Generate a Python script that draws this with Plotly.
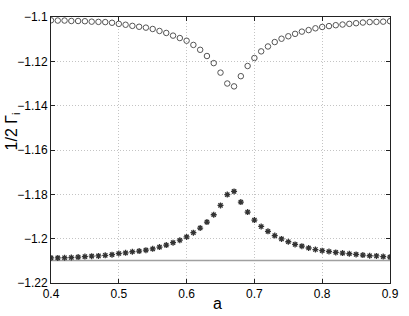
import plotly.graph_objects as go

a = [round(0.40 + 0.01 * i, 2) for i in range(51)]

# upper branch (open circles)
gamma_upper = [
    -1.1015, -1.1016, -1.1016, -1.1018, -1.1018, -1.1019, -1.1021, -1.1022, -1.1023, -1.1026,
    -1.1031, -1.1035, -1.1040, -1.1044, -1.1048, -1.1054, -1.1063, -1.1072, -1.1084, -1.1095,
    -1.1107, -1.1126, -1.1148, -1.1176, -1.1208, -1.1251, -1.1300, -1.1313, -1.1267, -1.1221,
    -1.1185, -1.1155, -1.1133, -1.1113, -1.1098, -1.1087, -1.1076, -1.1066, -1.1059, -1.1051,
    -1.1045, -1.1041, -1.1037, -1.1034, -1.1031, -1.1028, -1.1025, -1.1023, -1.1022, -1.1021,
    -1.1019,
]

# lower branch (stars)
gamma_lower = [
    -1.2087, -1.2087, -1.2086, -1.2085, -1.2083, -1.2081, -1.2079, -1.2078, -1.2075, -1.2072,
    -1.2067, -1.2064, -1.2059, -1.2056, -1.2052, -1.2046, -1.2038, -1.2029, -1.2018, -1.2007,
    -1.1992, -1.1973, -1.1952, -1.1925, -1.1892, -1.1850, -1.1801, -1.1787, -1.1835, -1.1880,
    -1.1916, -1.1945, -1.1967, -1.1986, -1.2001, -1.2014, -1.2026, -1.2034, -1.2042, -1.2049,
    -1.2054, -1.2058, -1.2062, -1.2065, -1.2068, -1.2071, -1.2074, -1.2077, -1.2078, -1.2081,
    -1.2083,
]

# flat reference level
ref_level = -1.2099

fig = go.Figure()

fig.add_trace(go.Scatter(
    x=[a[0], a[-1]], y=[ref_level, ref_level], mode="lines",
    line={"color": "#a0a0a0", "width": 1.5}, showlegend=False,
))
fig.add_trace(go.Scatter(
    x=a, y=gamma_upper, mode="markers",
    marker={"symbol": "circle-open", "size": 5.5, "color": "#555555", "line": {"width": 1}},
    showlegend=False,
))
fig.add_trace(go.Scatter(
    x=a, y=gamma_lower, mode="markers",
    marker={"symbol": "asterisk-open", "size": 5, "color": "#333333", "line": {"width": 1.3}},
    showlegend=False,
))

font = {"family": "Liberation Sans, Arial", "color": "black"}

axis_common = dict(
    showline=True, linecolor="#222222", linewidth=1, mirror="ticks",
    ticks="inside", ticklen=4, tickcolor="#222222",
    showgrid=True, gridcolor="#c4c4c4", griddash="1px,2px", gridwidth=1,
    zeroline=False, tickfont={**font, "size": 12},
)

fig.update_xaxes(range=[0.4, 0.9], tickvals=[0.4, 0.5, 0.6, 0.7, 0.8, 0.9], **axis_common)
fig.update_yaxes(range=[-1.22, -1.1], tickvals=[-1.22, -1.2, -1.18, -1.16, -1.14, -1.12, -1.1],
                 **axis_common)

fig.update_layout(
    width=409, height=316,
    margin={"l": 51, "r": 10, "t": 10, "b": 33},
    plot_bgcolor="white", paper_bgcolor="white",
    annotations=[
        dict(text="a", xref="paper", yref="paper", x=0.49, y=0, yshift=-20,
             showarrow=False, xanchor="center", yanchor="middle",
             font={**font, "size": 16}),
        dict(text="1/2 Γ<sub>i</sub>", xref="paper", yref="paper", x=0, xshift=-39, y=0.57,
             showarrow=False, textangle=-90, xanchor="center", yanchor="middle",
             font={**font, "size": 16}),
    ],
)

fig.write_html("out.html", config={"displayModeBar": False},
               post_script="document.body.style.margin='0';")
